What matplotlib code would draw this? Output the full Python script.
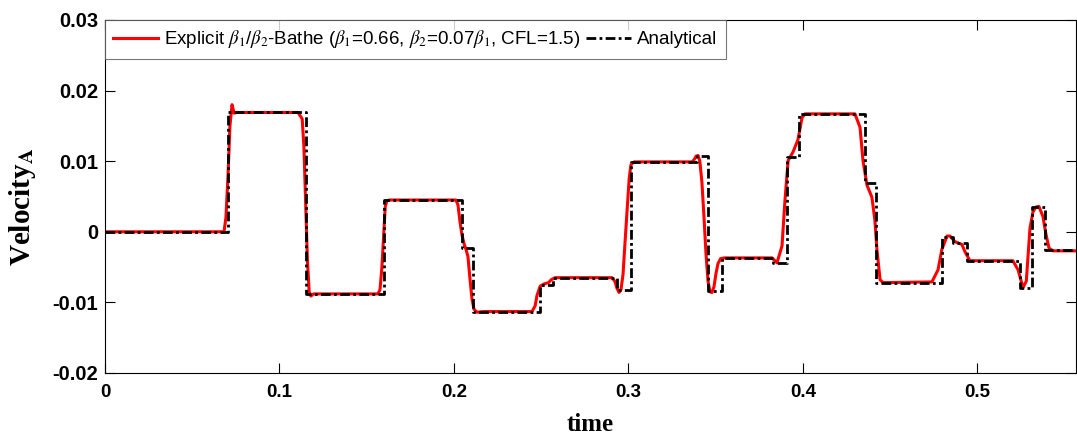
#!/usr/bin/env python3
import matplotlib
matplotlib.use("Agg")
import matplotlib.pyplot as plt

plt.rcParams['font.family'] = ['Liberation Sans', 'DejaVu Sans']
plt.rcParams['mathtext.fontset'] = 'stix'

# analytical solution: step change times and levels
STEP_T = [0.0, 0.0705, 0.1152, 0.1598, 0.2046, 0.2109, 0.2494, 0.2568,
          0.2934, 0.3014, 0.3390, 0.3454, 0.3538, 0.3828, 0.3907, 0.3977,
          0.4355, 0.4419, 0.4796, 0.4861, 0.4940, 0.5243, 0.5310, 0.5386, 0.5565]
STEP_V = [0.0, 0.0169, -0.0088, 0.0045, -0.00225, -0.0113, -0.0075, -0.0065,
          -0.0083, 0.0099, 0.0107, -0.0084, -0.0037, -0.0044, 0.0106, 0.0167,
          0.0069, -0.0072, -0.0007, -0.0016, -0.0041, -0.0080, 0.0035, -0.0026, -0.0026]

# explicit beta1/beta2-Bathe solution
NUM_T = [0.0, 0.0682, 0.0693, 0.0705, 0.0716, 0.0728, 0.0740, 0.0754,
         0.1106, 0.1130, 0.1140, 0.1150, 0.1160, 0.1170, 0.1180, 0.1195,
         0.1564, 0.1576, 0.1587, 0.1598, 0.1606, 0.1615, 0.1630,
         0.2011, 0.2023, 0.2034, 0.2046, 0.2058, 0.2069, 0.2080, 0.2091, 0.2103, 0.2115, 0.2132, 0.2167,
         0.2447, 0.2465, 0.2476, 0.2494, 0.2515, 0.2542, 0.2557, 0.2579,
         0.2905, 0.2922, 0.2934, 0.2946, 0.2957, 0.2969, 0.2979, 0.2992, 0.3004, 0.3014, 0.3032,
         0.3364, 0.3376, 0.3387, 0.3399, 0.3409, 0.3421, 0.3433, 0.3444, 0.3456, 0.3467, 0.3478,
         0.3490, 0.3501, 0.3513, 0.3528, 0.3549,
         0.3823, 0.3851, 0.3880, 0.3897, 0.3915, 0.3943, 0.3971, 0.3995, 0.4012,
         0.4298, 0.4327, 0.4344, 0.4367, 0.4395, 0.4412, 0.4424, 0.4442, 0.4459,
         0.4739, 0.4774, 0.4796, 0.4826, 0.4842, 0.4871, 0.4911, 0.4928, 0.4957,
         0.5203, 0.5233, 0.5261, 0.5280, 0.5301, 0.5318, 0.5335, 0.5352, 0.5375, 0.5393, 0.5410, 0.5433, 0.5565]
NUM_V = [0.0, 0.0, 0.0020, 0.0080, 0.0150, 0.0180, 0.0168, 0.0169,
         0.0169, 0.0160, 0.0120, 0.0040, -0.0040, -0.0085, -0.0091, -0.0088,
         -0.0088, -0.0082, -0.0050, 0.0000, 0.0035, 0.0044, 0.0045,
         0.0045, 0.0038, 0.0015, -0.0005, -0.0017, -0.0025, -0.0035, -0.0065, -0.0095, -0.0110, -0.0114, -0.0113,
         -0.0113, -0.0105, -0.0090, -0.0077, -0.0074, -0.0072, -0.0068, -0.0065,
         -0.0065, -0.0070, -0.0080, -0.0086, -0.0082, -0.0060, -0.0020, 0.0030, 0.0075, 0.0095, 0.0099,
         0.0099, 0.0102, 0.0107, 0.0108, 0.0100, 0.0070, 0.0020, -0.0030, -0.0070, -0.0085, -0.0086,
         -0.0078, -0.0060, -0.0045, -0.0038, -0.0037,
         -0.0037, -0.0044, -0.0020, 0.0045, 0.0101, 0.0113, 0.0130, 0.0162, 0.0167,
         0.0167, 0.0148, 0.0101, 0.0066, 0.0049, 0.0017, -0.0025, -0.0068, -0.0072,
         -0.0071, -0.0054, -0.0025, -0.0006, -0.0006, -0.0014, -0.0018, -0.0028, -0.0041,
         -0.0041, -0.0054, -0.0079, -0.0070, 0.0005, 0.0028, 0.0035, 0.0036, 0.0022, -0.0004, -0.0023, -0.0027, -0.0027]

fig = plt.figure(figsize=(10.77, 4.37), dpi=100)
ax = fig.add_axes([0.0975, 0.1465, 0.9016, 0.8078])

ax.plot(NUM_T, NUM_V, color='red', lw=2.2,
        label=r'Explicit $\beta_1$/$\beta_2$-Bathe ($\beta_1$=0.66, $\beta_2$=0.07$\beta_1$, CFL=1.5)')
ax.step(STEP_T, STEP_V, where='post', color='black', lw=2.0, ls=(0, (3.5, 1.2, 1, 1.2)),
        label='Analytical')

ax.set_xlim(0, 0.5565)
ax.set_ylim(-0.02, 0.03)
ax.set_xticks([0, 0.1, 0.2, 0.3, 0.4, 0.5])
ax.set_xticklabels(['0', '0.1', '0.2', '0.3', '0.4', '0.5'])
ax.set_yticks([-0.02, -0.01, 0, 0.01, 0.02, 0.03])
ax.set_yticklabels(['-0.02', '-0.01', '0', '0.01', '0.02', '0.03'])
ax.tick_params(direction='in', top=True, right=True, length=7, width=0.8)
ax.tick_params(axis='x', labelsize=13.5, pad=8)
ax.tick_params(axis='y', labelsize=14.5, pad=5)
for lab in ax.get_xticklabels() + ax.get_yticklabels():
    lab.set_fontweight('bold')
for sp in ax.spines.values():
    sp.set_linewidth(0.8)

ax.set_xlabel('time', fontsize=18, fontweight='bold', family='Liberation Serif', va='center')
ax.xaxis.set_label_coords(0.5, -0.147)
ax.set_ylabel(r'Velocity$_{\mathbf{A}}$', fontsize=21, fontweight='bold',
              family='Liberation Serif', va='center')
ax.yaxis.set_label_coords(-0.085, 0.47)

leg = ax.legend(loc='upper left', ncol=2, fontsize=13.5, frameon=True, fancybox=False,
                borderaxespad=0, handlelength=2.4, handletextpad=0.3, columnspacing=0.3,
                borderpad=0.45)
leg.get_frame().set_edgecolor('#555555')
leg.get_frame().set_linewidth(0.8)

plt.savefig('out.png', dpi=100)
